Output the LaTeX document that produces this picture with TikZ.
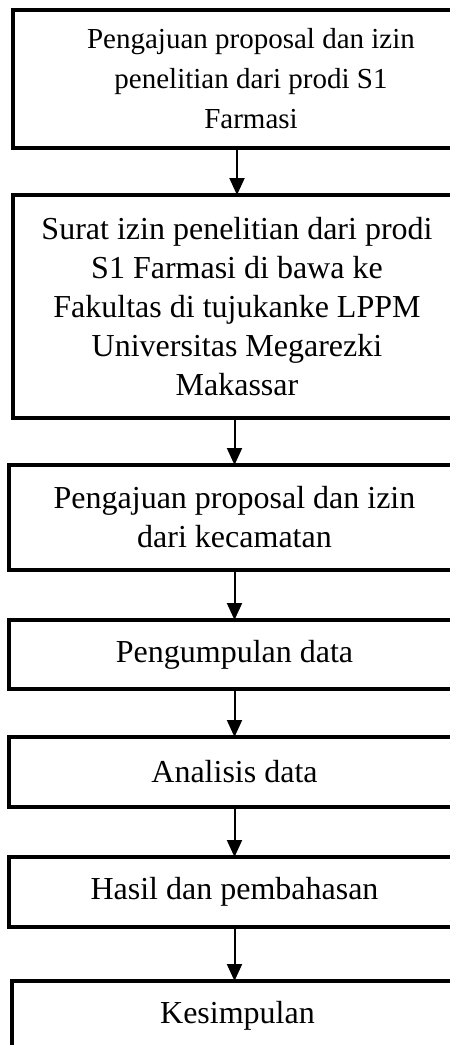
\documentclass[tikz,border=0pt]{standalone}
\usepackage{fontspec}
\setmainfont{Liberation Serif}
\usetikzlibrary{positioning,arrows.meta}

\begin{document}
\begin{tikzpicture}[x=1pt,y=-1pt,node distance=48pt,
    stepbox/.style={draw,line width=3.5pt,align=center,inner sep=0pt,outer sep=0pt,
      minimum width=451pt,font=\fontsize{32}{39}\selectfont},
    flow/.style={line width=2pt,-{Triangle[width=15pt,length=17pt]}}]
    \useasboundingbox (0,0) rectangle (450,1045);
    \clip (0,0) rectangle (450,1045);
    \node[stepbox,anchor=north west,minimum width=476pt,minimum height=138pt,
      font=\fontsize{29}{40}\selectfont] (b1) at (13,10)
      {Pengajuan proposal dan izin\\penelitian dari prodi S1\\Farmasi};
    \node[stepbox,anchor=north west,minimum width=448pt,minimum height=223pt] (b2) at (13,195)
      {Surat izin penelitian dari prodi\\S1 Farmasi di bawa ke\\Fakultas di tujukanke LPPM\\Universitas Megarezki\\Makassar};
    \node[stepbox,anchor=north west,minimum height=105pt] (b3) at (9,465)
      {Pengajuan proposal dan izin\\dari kecamatan};
    \node[stepbox,minimum height=69pt,below=50pt of b3] (b4) {Pengumpulan data};
    \node[stepbox,minimum height=70pt,below=of b4] (b5) {Analisis data};
    \node[stepbox,minimum height=70pt,below=50pt of b5] (b6) {Hasil dan pembahasan};
    \node[stepbox,minimum height=70pt,below=54pt of b6,xshift=3pt] (b7) {Kesimpulan};
    % arrows between the steps
    \draw[flow] (b2.north |- b1.south) -- (b2.north);
    \draw[flow] (b3.north |- b2.south) -- (b3.north);
    \draw[flow] (b3) -- (b4);
    \draw[flow] (b4) -- (b5);
    \draw[flow] (b5) -- (b6);
    \draw[flow] (b6.south) -- (b6.south |- b7.north);
\end{tikzpicture}
\end{document}
